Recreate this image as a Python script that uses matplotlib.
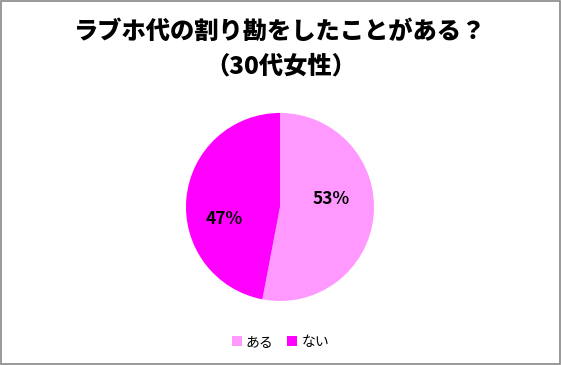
import matplotlib
matplotlib.use("Agg")
from matplotlib import pyplot as plt
from matplotlib.patches import Rectangle

plt.rcParams['font.family'] = ['Noto Sans CJK JP', 'DejaVu Sans']

labels = ["ある", "ない"]
values = [53, 47]
colors = ["#FF99FF", "#FF00FF"]
title = "ラブホ代の割り勘をしたことがある？\n（30代女性）"

fig = plt.figure(figsize=(5.61, 3.65), dpi=100)
fig.patch.set_facecolor("white")

# pie area placed to match the reference
ax = fig.add_axes([0.4991 - 0.1676, 0.4329 - 0.2575, 0.3352, 0.5151])
wedges, texts, autotexts = ax.pie(values, colors=colors, startangle=90, counterclock=False,
                                  autopct=lambda p: f"{round(p)}%", pctdistance=0.55,
                                  textprops=dict(fontsize=12.5, fontweight="bold", color="black"))
ax.set_aspect("equal")
ax.set_xlim(-1, 1)
ax.set_ylim(-1, 1)
# nudge the percent labels like the original
x, y = autotexts[0].get_position()
autotexts[0].set_position((x, y + 0.14))
x, y = autotexts[1].get_position()
autotexts[1].set_position((x - 0.05, y - 0.18))

fig.text(0.5, 0.866, title, ha="center", va="center", fontsize=17.5,
         fontweight="heavy", linespacing=1.55)

fig.legend(wedges, labels, loc="center", bbox_to_anchor=(0.5, 0.063), ncol=2,
           frameon=False, fontsize=10, handlelength=0.7, handleheight=0.7,
           handletextpad=0.3, columnspacing=1.0)

fig.patches.append(Rectangle((0.001, 0.002), 0.997, 0.995, transform=fig.transFigure,
                             fill=False, edgecolor="#888888", linewidth=1.2))

fig.savefig("out.png", dpi=100)
